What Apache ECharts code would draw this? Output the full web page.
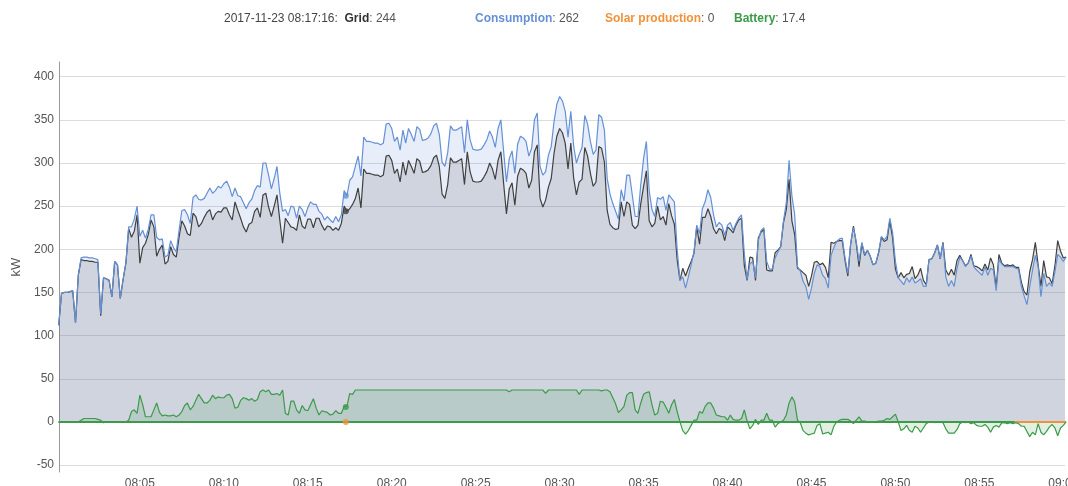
<!DOCTYPE html>
<html>
<head>
<meta charset="utf-8">
<title>Grid / consumption / battery</title>
<script src="https://cdn.jsdelivr.net/npm/echarts@6.0.0/dist/echarts.min.js"></script>
<style>
  html, body { margin: 0; padding: 0; background: #fff; }
  #chart { width: 1068px; height: 486px; }
</style>
</head>
<body>
<div id="chart"></div>
<script>
// samples every 10 s, starting 2017-11-23 08:00:10
const START = new Date(2017, 10, 23, 8, 0, 10).getTime()
const STEP_MS = 10000

const consumption = [
  112, 149, 150, 150, 151, 152, 115, 170, 190, 191,
  191, 190, 190, 189, 188, 125, 166, 166, 164, 145,
  186, 182, 143, 165, 184, 226, 226, 235, 250, 215,
  222, 213, 223, 240, 240, 214, 211, 212, 191, 193,
  210, 202, 197, 222, 245, 246, 240, 230, 260, 263,
  258, 257, 259, 265, 271, 265, 268, 273, 271, 276,
  279,
  272, 261, 271, 262, 261, 254, 247, 254, 258, 268,
  274, 272, 300, 300, 286, 270, 282, 296, 265, 244,
  246, 239, 250, 249, 236, 250, 246, 238, 248, 255,
  252, 252, 244, 241, 234, 238, 234, 231, 238, 232,
  240, 268, 262, 280, 284, 296, 308, 285, 330, 325,
  325, 324, 323, 323, 321, 323, 345, 346, 340, 325,
  330, 315, 338, 323, 340, 333, 325, 342, 339, 326,
  327, 329, 334, 343, 346, 333, 301, 296, 312, 343,
  338, 338, 340, 342, 312, 350, 327, 316, 315, 315,
  316, 321, 327, 337, 330, 318, 340, 350, 313, 278,
  305, 314, 288, 322, 331, 329, 325, 308, 317, 350,
  358, 296, 286, 290, 309, 319, 348, 368, 377, 372,
  360, 330, 360, 320, 300, 310, 318, 355, 345, 325,
  310, 315, 356, 353, 338, 282, 264, 253, 244, 235,
  269, 256, 286, 286, 262, 238, 238, 275, 305, 325,
  268, 246, 238, 260, 258, 261, 245, 263, 259, 255,
  200, 164, 168, 155, 168, 182, 197, 228, 218, 247,
  255, 269, 260, 240, 226, 231, 228, 216, 228, 231,
  222, 230, 236, 240, 195, 165, 183, 186, 167, 210,
  222, 225, 186, 177, 177, 190, 197, 203, 233, 254,
  303, 262, 240, 180, 175, 163, 157, 142, 155, 172,
  182, 180, 170, 166, 155, 193, 202, 209, 212, 213,
  190, 172, 207, 225, 209, 186, 208, 194, 199, 192,
  182, 184, 197, 215, 211, 215, 236, 219, 186, 167,
  163, 159, 167, 162, 168, 161, 163, 166, 157, 157,
  188, 189, 195, 205, 189, 207, 168, 157, 164, 157,
  178, 191, 187, 180, 184, 192, 180, 176, 173, 170,
  180, 170, 178, 176, 152, 188, 183, 180, 180, 180,
  180, 178, 177, 157, 146, 136, 157, 176, 193, 180,
  145, 172, 157, 161, 157, 174, 194, 191, 186, 191
]

const grid = [
  112, 149, 150, 150, 151, 152, 115, 170, 188, 187,
  187, 186, 186, 185, 185, 123, 167, 166, 164, 145,
  186, 182, 143, 165, 184, 224, 214, 221, 240, 184,
  202, 207, 217, 234, 226, 192, 200, 205, 183, 186,
  203, 194, 191, 214, 233, 227, 218, 216, 242, 238,
  226, 230, 237, 243, 246, 234, 241, 244, 243, 248,
  248,
  240, 234, 255, 245, 236, 226, 220, 229, 231, 244,
  248, 237, 263, 265, 249, 238, 250, 263, 234, 207,
  236, 231, 226, 225, 222, 240, 227, 224, 235, 235,
  225, 236, 236, 228, 222, 227, 226, 222, 225, 222,
  230, 250, 244, 247, 252, 259, 271, 248, 293, 288,
  288, 287, 286, 286, 284, 286, 308, 309, 303, 288,
  293, 278, 301, 286, 303, 296, 288, 305, 302, 289,
  290, 292, 297, 306, 309, 296, 264, 259, 275, 306,
  301, 301, 303, 305, 275, 313, 290, 279, 278, 278,
  279, 284, 290, 300, 293, 281, 303, 313, 276, 241,
  270, 277, 251, 285, 294, 292, 288, 271, 280, 313,
  321, 259, 249, 257, 272, 282, 311, 331, 340, 335,
  323, 293, 323, 283, 263, 278, 281, 318, 308, 288,
  273, 278, 319, 317, 301, 245, 229, 225, 223, 224,
  255, 238, 255, 252, 228, 224, 228, 253, 273, 291,
  233, 226, 230, 250, 234, 238, 228, 253, 239, 229,
  188, 164, 178, 169, 178, 186, 195, 226, 206, 237,
  237, 247, 238, 224, 218, 224, 222, 210, 226, 223,
  219, 228, 234, 236, 181, 164, 191, 190, 164, 213,
  220, 223, 176, 175, 175, 196, 199, 203, 231, 246,
  281, 233, 217, 178, 176, 173, 170, 157, 169, 185,
  186, 182, 184, 179, 167, 208, 207, 209, 210, 210,
  187, 169, 206, 227, 207, 180, 207, 193, 199, 192,
  182, 184, 196, 214, 209, 211, 233, 213, 177, 167,
  173, 167, 171, 172, 180, 166, 170, 178, 164, 159,
  188, 189, 196, 205, 189, 208, 176, 170, 177, 170,
  187, 193, 187, 181, 184, 194, 181, 180, 178, 175,
  183, 176, 190, 182, 156, 194, 184, 181, 182, 181,
  182, 179, 179, 162, 151, 147, 174, 188, 208, 182,
  157, 187, 168, 167, 160, 181, 210, 198, 190, 191
]

const battery = [
  0, 0, 0, 0, 0, 0, 0, 0, 2, 4,
  4, 4, 4, 4, 3, 2, -1, 0, 0, 0,
  0, 0, 0, 0, 0, 2, 12, 14, 10, 31,
  20, 6, 6, 6, 14, 22, 11, 7, 8, 7,
  7, 8, 6, 8, 12, 19, 22, 14, 18, 25,
  32, 27, 22, 22, 25, 31, 27, 29, 28, 28,
  31,
  32, 27, 16, 17, 25, 28, 27, 25, 27, 24,
  26, 35, 37, 35, 37, 32, 32, 33, 31, 37,
  10, 8, 24, 24, 14, 10, 19, 14, 13, 20,
  27, 16, 8, 13, 12, 11, 8, 9, 13, 10,
  10, 18, 18, 33, 32, 37, 37, 37, 37, 37,
  37, 37, 37, 37, 37, 37, 37, 37, 37, 37,
  37, 37, 37, 37, 37, 37, 37, 37, 37, 37,
  37, 37, 37, 37, 37, 37, 37, 37, 37, 37,
  37, 37, 37, 37, 37, 37, 37, 37, 37, 37,
  37, 37, 37, 37, 37, 37, 37, 37, 37, 37,
  35, 37, 37, 37, 37, 37, 37, 37, 37, 37,
  37, 37, 37, 33, 37, 37, 37, 37, 37, 37,
  37, 37, 37, 37, 37, 32, 37, 37, 37, 37,
  37, 37, 37, 36, 37, 37, 35, 28, 21, 11,
  14, 18, 31, 34, 34, 14, 10, 22, 32, 34,
  35, 20, 8, 10, 24, 23, 17, 10, 20, 26,
  12, 0, -10, -14, -10, -4, 2, 2, 12, 10,
  18, 22, 22, 16, 8, 7, 6, 6, 2, 8,
  3, 2, 2, 4, 14, 1, -8, -4, 3, -3,
  2, 2, 10, 2, 2, -6, -2, 0, 2, 8,
  22, 29, 23, 2, -1, -10, -13, -15, -14, -13,
  -4, -2, -14, -13, -12, -15, -5, 0, 2, 3,
  3, 3, 1, -2, 2, 6, 1, 1, 0, 0,
  0, 0, 1, 1, 2, 4, 3, 6, 9, 0,
  -10, -8, -4, -10, -12, -5, -7, -12, -7, -2,
  0, 0, -1, 0, 0, -1, -8, -13, -13, -13,
  -9, -2, 0, -1, 0, -2, -1, -4, -5, -5,
  -3, -6, -12, -6, -4, -6, -1, -1, -2, -1,
  -2, -1, -2, -5, -5, -11, -17, -12, -15, -2,
  -12, -15, -11, -6, -3, -7, -16, -7, -4, 0
]

// solar production stays at 0 over the whole window (first and last sample)
const solar = [0, 0]
// battery baseline drawn along 0 kW, hiding the solar line until 08:57
const batteryBaseline = [0, 0]

// highlighted sample shown in the legend line
const highlightTime = '2017-11-23 08:17:16'
const highlightLabels = ['Grid', 'Consumption', 'Solar production', 'Battery']
const highlightValues = [244, 262, 0, 17.4]

const X_MIN = new Date(2017, 10, 23, 8, 0, 11).getTime()
const X_MAX = new Date(2017, 10, 23, 9, 0, 6).getTime()
const BASELINE_END = new Date(2017, 10, 23, 8, 57, 5).getTime()

const FONT = 'Arial, "Liberation Sans", sans-serif'
const COLORS = ['#404040', '#6590d5', '#f0923a', '#3b9b48']
const LABEL_LEFT = [224, 475, 605, 734]

const times = consumption.map((_, i) => START + i * STEP_MS)
const toPoints = (values) => values.map((v, i) => [times[i], v])
const hlTime = new Date(highlightTime.replace(' ', 'T')).getTime()

const fillSeries = (values, color) => ({
  type: 'line',
  data: toPoints(values),
  showSymbol: false,
  silent: true,
  z: 1,
  lineStyle: { width: 0 },
  areaStyle: { color, opacity: 0.15 }
})

const lineSeries = (name, values, color, z, width = 1.2) => ({
  name,
  type: 'line',
  data: toPoints(values),
  showSymbol: false,
  silent: true,
  z,
  lineStyle: { color, width }
})

const header = highlightLabels.map((label, i) => {
  const value = `{v|: ${highlightValues[i]}}`
  const text = i === 0
    ? `{d|${highlightTime}:}  {n|${label}}${value}`
    : `{n|${label}}${value}`
  return {
    left: LABEL_LEFT[i],
    top: 13,
    padding: 0,
    text,
    textStyle: {
      fontFamily: FONT,
      fontSize: 12,
      fontWeight: 'normal',
      rich: {
        d: { fontFamily: FONT, fontSize: 12, fontWeight: 'normal', color: '#444' },
        n: { fontFamily: FONT, fontSize: 12, fontWeight: 'bold', color: i === 0 ? '#333' : COLORS[i] },
        v: { fontFamily: FONT, fontSize: 12, fontWeight: 'normal', color: '#555' }
      }
    }
  }
})

const chart = echarts.init(document.getElementById('chart'), null, { renderer: 'canvas' })

const option = {
  animation: false,
  backgroundColor: '#fff',
  textStyle: { fontFamily: FONT },
  title: header,
  grid: { left: 59, right: 3, top: 62, bottom: 14, containLabel: false, outerBoundsMode: 'none' },
  xAxis: {
    type: 'time',
    min: X_MIN,
    max: X_MAX,
    // a bit over 5 minutes per split so the time scale settles on 5-minute ticks
    splitNumber: 11,
    axisLine: { lineStyle: { color: '#999', width: 1 } },
    axisTick: { show: false },
    splitLine: { show: false },
    axisLabel: {
      color: '#555',
      fontSize: 12,
      fontFamily: FONT,
      margin: 6,
      formatter: '{HH}:{mm}',
      showMinLabel: false,
      showMaxLabel: false,
      hideOverlap: false
    }
  },
  yAxis: {
    type: 'value',
    min: -58,
    max: 417,
    splitNumber: 9,
    name: 'kW',
    nameLocation: 'middle',
    nameRotate: 90,
    nameGap: 30,
    nameTextStyle: { color: '#555', fontSize: 13, fontFamily: FONT },
    axisLine: { show: true, lineStyle: { color: '#999', width: 1 } },
    axisTick: { show: false },
    axisLabel: {
      color: '#555',
      fontSize: 12,
      fontFamily: FONT,
      margin: 5,
      showMinLabel: false,
      showMaxLabel: false
    },
    splitLine: {
      showMinLine: false,
      showMaxLine: false,
      lineStyle: { color: '#dcdcdc', width: 1 }
    }
  },
  series: [
    fillSeries(consumption, COLORS[1]),
    fillSeries(grid, COLORS[0]),
    fillSeries(battery, COLORS[3]),
    {
      name: 'Solar production',
      type: 'line',
      data: [[times[0], solar[0]], [times[times.length - 1], solar[1]]],
      showSymbol: false,
      silent: true,
      z: 2,
      lineStyle: { color: COLORS[2], width: 2 }
    },
    {
      type: 'line',
      data: [[times[0], batteryBaseline[0]], [BASELINE_END, batteryBaseline[1]]],
      showSymbol: false,
      silent: true,
      z: 3,
      lineStyle: { color: COLORS[3], width: 2 }
    },
    lineSeries('Grid', grid, COLORS[0], 4),
    lineSeries('Consumption', consumption, COLORS[1], 5),
    lineSeries('Battery', battery, COLORS[3], 6),
    {
      type: 'scatter',
      silent: true,
      z: 30,
      symbolSize: 6,
      data: highlightValues.map((v, i) => ({
        value: [hlTime, v],
        itemStyle: { color: COLORS[i] }
      }))
    }
  ]
}

chart.setOption(option)
</script>
</body>
</html>
